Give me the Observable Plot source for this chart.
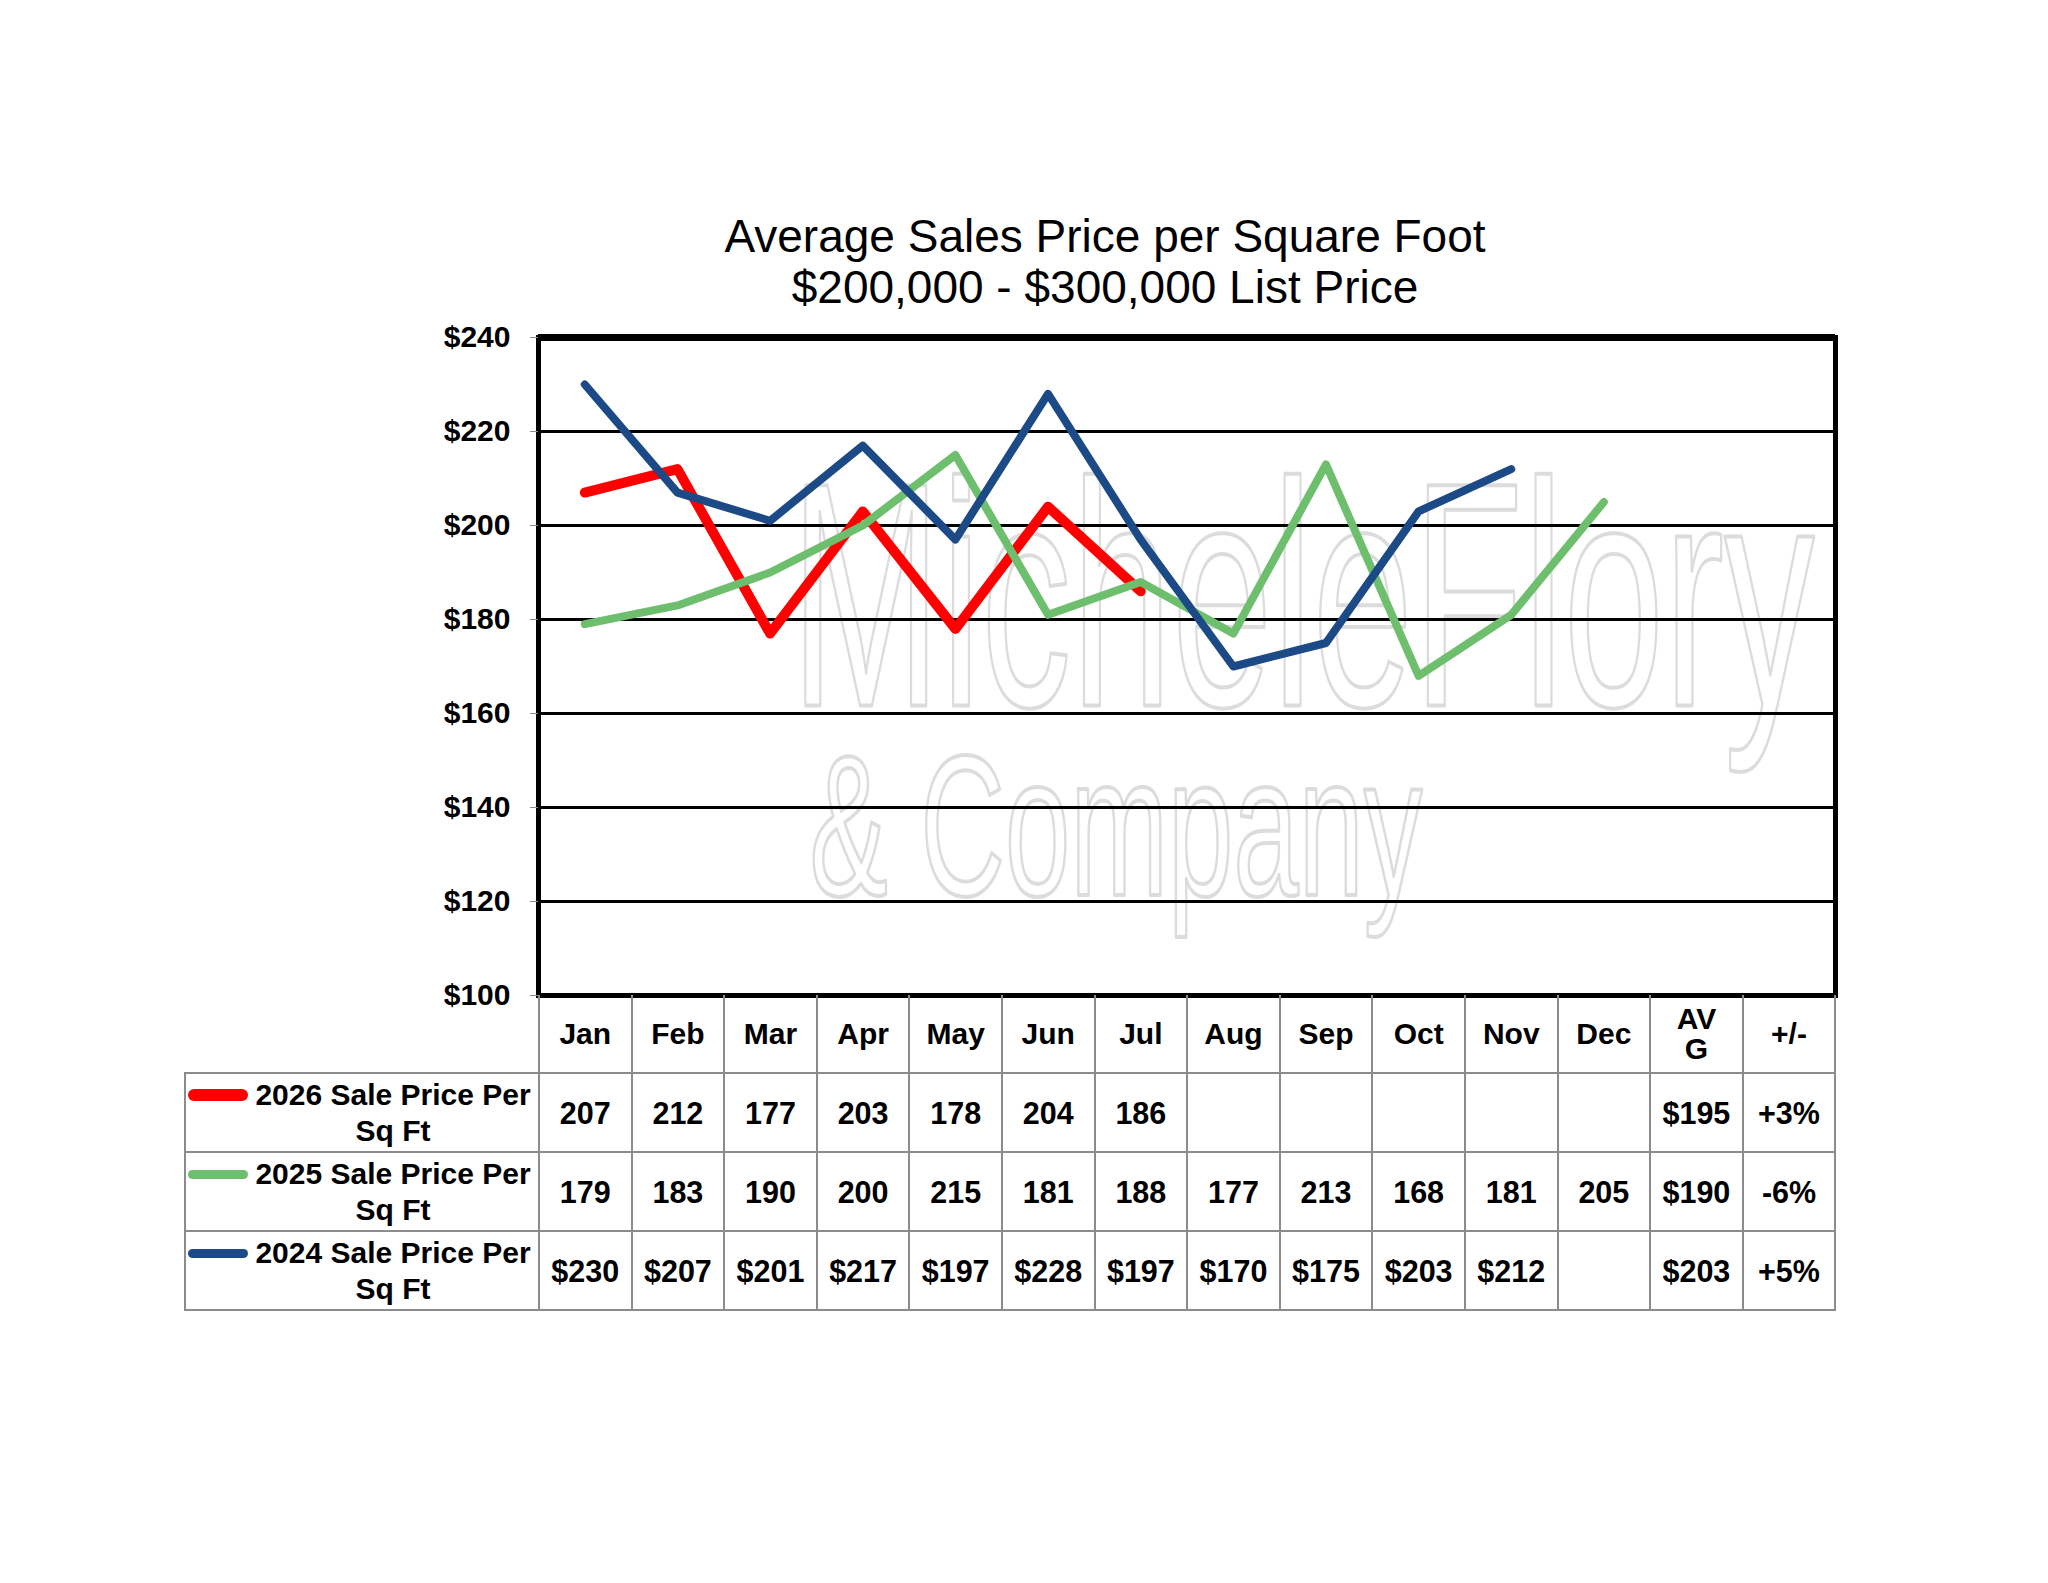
<!DOCTYPE html>
<html>
<head>
<meta charset="utf-8">
<script src="https://cdn.jsdelivr.net/npm/d3@7"></script>
<script src="https://cdn.jsdelivr.net/npm/@observablehq/plot@0.6"></script>
<style>
  body { margin: 0; background: #fff; font-family: "Liberation Sans", Arial, sans-serif; }
  #wrap { position: relative; width: 2048px; height: 1583px; overflow: hidden; background: #fff; }
  #title { position: absolute; left: 605px; width: 1000px; top: 211px; text-align: center;
           font-size: 46px; line-height: 51px; color: #000; }
  #chart { position: absolute; left: 0; top: 0; }
  #tbl { position: absolute; left: 184px; top: 995px; border-collapse: collapse; table-layout: fixed; }
  #tbl td { border: 2px solid #8c8c8c; text-align: center; vertical-align: middle; font-weight: bold;
            font-size: 30.5px; padding: 0; height: 77px; color: #000; line-height: 36px; }
  #tbl tr.head td { border-top: none; line-height: 30px; font-size: 30px; }
  #tbl tr.head td.corner { border-left: none; }
  #tbl td.lab { text-align: center; font-size: 30px; }
  #tbl td.lab div { position: relative; padding-left: 62px; padding-right: 0; }
  #tbl td.lab span.sw { position: absolute; left: 2px; width: 60px; border-radius: 6px; }
</style>
</head>
<body>
<div id="wrap">
  <div id="title">Average Sales Price per Square Foot<br>$200,000 - $300,000 List Price</div>
  <div id="chart"></div>
  <table id="tbl"></table>
</div>
<script>
// ---- data ----
const months = ["Jan","Feb","Mar","Apr","May","Jun","Jul","Aug","Sep","Oct","Nov","Dec"];
const extraCols = ["AVG","+/-"];
const extraHeaders = ["AV<br>G","+/-"];
const yTicks = [100,120,140,160,180,200,220,240];

const seriesNames = ["2026 Sale Price Per Sq Ft","2025 Sale Price Per Sq Ft","2024 Sale Price Per Sq Ft"];
const seriesColors = ["#ff0000","#6dbf6d","#1b4a86"];
const values2026 = [207,212,177,203,178,204,186];
const values2025 = [179,183,190,200,215,181,188,177,213,168,181,205];
const values2024 = [230,207,201,217,197,228,197,170,175,203,212];
const avgs = ["$195","$190","$203"];
const changes = ["+3%","-6%","+5%"];
const dollarPrefix = [false,false,true];
const watermarkLines = ["MicheleFlory","& Company"];

const allSeries = [values2026, values2025, values2024];
const cols = months.concat(extraCols);
const toRows = arr => arr.map((v,i) => ({month: months[i], value: v}));

// ---- chart ----
const lineWidths = [10, 8, 8];
const chart = Plot.plot({
  width: 2048,
  height: 1015,
  marginLeft: 538,
  marginRight: 213,
  marginTop: 337,
  marginBottom: 20,
  style: { fontFamily: "'Liberation Sans', Arial, sans-serif", background: "transparent" },
  x: { type: "point", domain: cols, padding: 0.5, round: false, axis: null },
  y: { domain: [100, 240], axis: null },
  marks: [
    Plot.text([watermarkLines[0]], {frameAnchor: "top-left", dx: 252, dy: 368, text: d => d,
      textAnchor: "start", lineAnchor: "bottom", fontSize: 320, fill: "none", stroke: "#dcdcdc",
      strokeWidth: 4}),
    Plot.text([watermarkLines[1]], {frameAnchor: "top-left", dx: 271, dy: 557, text: d => d,
      textAnchor: "start", lineAnchor: "bottom", fontSize: 200, fill: "none", stroke: "#dcdcdc",
      strokeWidth: 4}),
    Plot.gridY({ticks: yTicks.slice(1, -1), stroke: "black", strokeOpacity: 1, strokeWidth: 3}),
    ...allSeries.map((arr, k) => Plot.line(toRows(arr), {
      x: "month", y: "value", stroke: seriesColors[k], strokeWidth: lineWidths[k],
      strokeLinecap: "round", strokeLinejoin: "round"})),
    Plot.frame({stroke: "black", strokeWidth: 5}),
    Plot.ruleY([240], {stroke: "black", strokeWidth: 7}),
    Plot.axisY({ticks: yTicks, tickFormat: d => "$" + d, tickSize: 8, tickPadding: 20, label: null,
      fontSize: 30, fontWeight: "bold", stroke: "#8c8c8c", fill: "black"})
  ]
});
document.getElementById("chart").appendChild(chart);
const wmLengths = [1024, 613];
watermarkLines.forEach((w, i) => {
  d3.select(chart).selectAll("text")
    .filter(function() { return this.textContent === w; })
    .attr("textLength", wmLengths[i]).attr("lengthAdjust", "spacingAndGlyphs");
});

// ---- table ----
const tbl = d3.select("#tbl");
const cg = tbl.append("colgroup");
cg.append("col").style("width", "354px");
cols.forEach(() => cg.append("col").style("width", "92.6px"));
const head = tbl.append("tr").attr("class", "head");
head.append("td").attr("class", "corner");
months.forEach(m => head.append("td").text(m));
extraHeaders.forEach(h => head.append("td").html(h));
seriesNames.forEach((name, k) => {
  const tr = tbl.append("tr");
  const lab = tr.append("td").attr("class", "lab").append("div");
  lab.append("span").attr("class", "sw")
    .style("background", seriesColors[k])
    .style("height", (k === 0 ? 12 : 9) + "px")
    .style("top", (k === 0 ? 12 : 14) + "px");
  lab.append("span").text(name);
  months.forEach((m, i) => {
    const v = allSeries[k][i];
    tr.append("td").text(v === undefined ? "" : (dollarPrefix[k] ? "$" : "") + v);
  });
  tr.append("td").text(avgs[k]);
  tr.append("td").text(changes[k]);
});
</script>
</body>
</html>
